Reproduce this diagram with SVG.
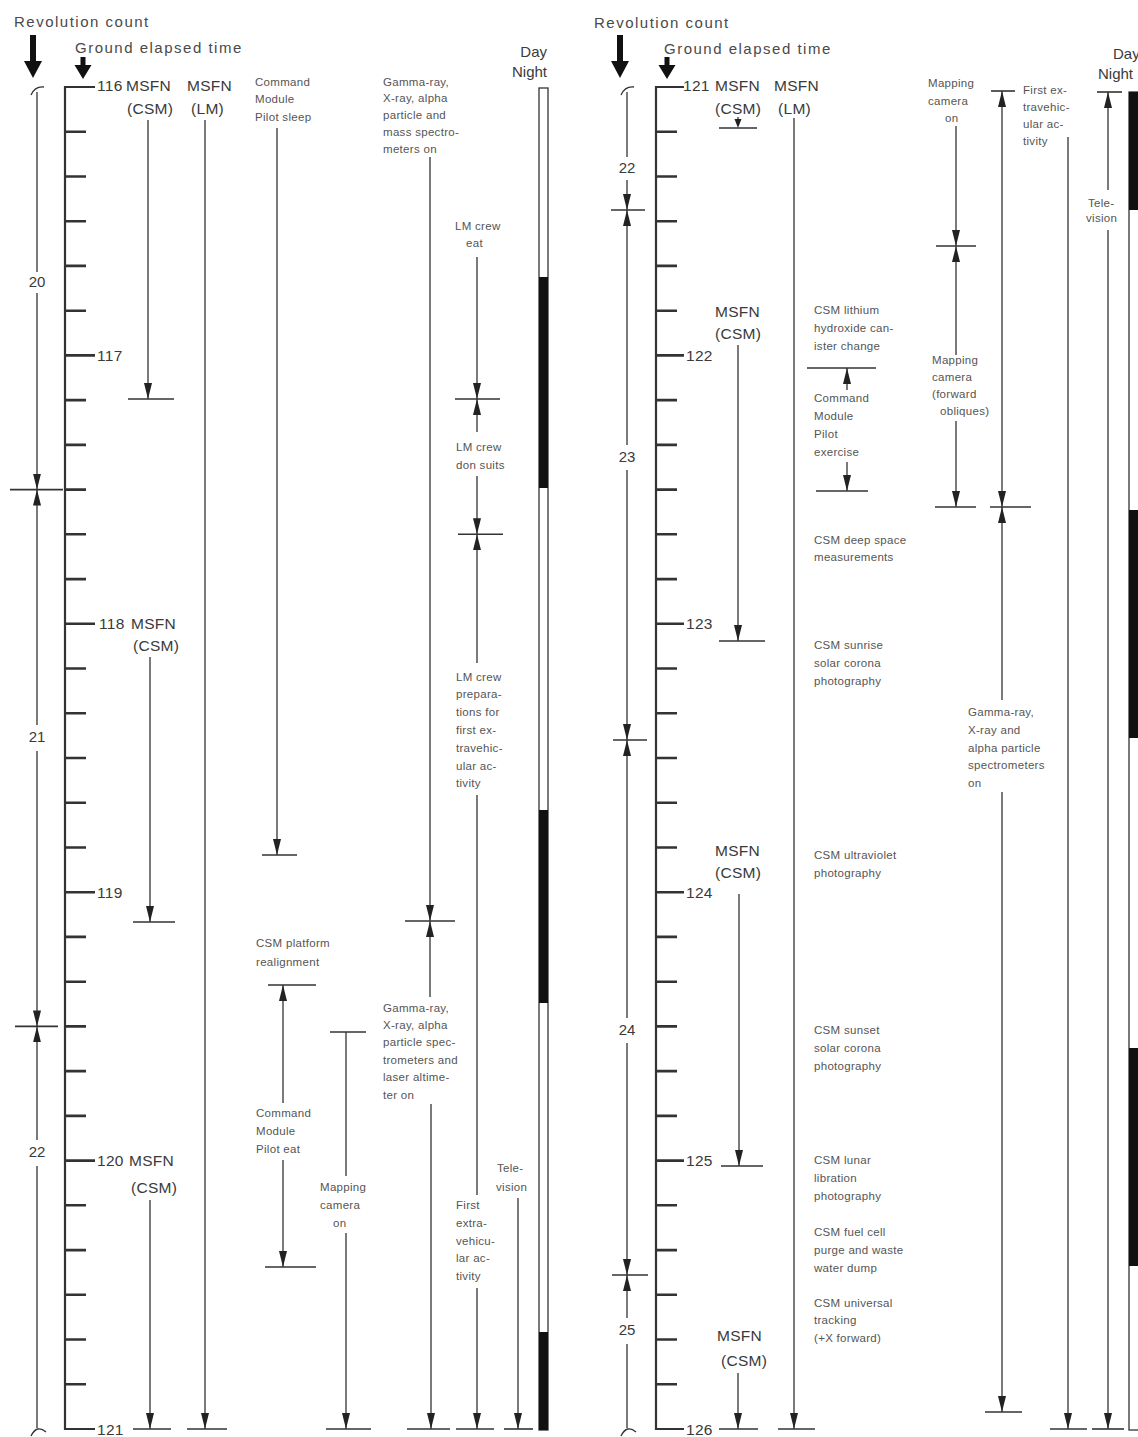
<svg xmlns="http://www.w3.org/2000/svg" width="1138" height="1437" viewBox="0 0 1138 1437">
<style>
text{font-family:"Liberation Sans",Arial,sans-serif;fill:#4a4a4a}
.h{font-size:15px;letter-spacing:1.5px}
.m{font-size:15.5px;letter-spacing:0.3px;fill:#3a3a3a}
.s{font-size:11.5px;letter-spacing:0.3px;fill:#555}
.n{font-size:15px;fill:#3a3a3a}
.ln{stroke:#333;stroke-width:1.3;fill:none}
.ar{stroke:#333;stroke-width:1.3;fill:none;marker-end:url(#ah)}
.bar{stroke:#333;stroke-width:1.6}
.ax{stroke:#333;stroke-width:2.2;fill:none}
.tk{stroke:#333;stroke-width:2.6;fill:none}
.dn{fill:#fff;stroke:#333;stroke-width:1.3}
.blk{fill:#111}
.big{fill:#111}
</style>
<defs>
<marker id="ah" viewBox="0 0 16 8" refX="16" refY="4" markerWidth="16" markerHeight="8" markerUnits="userSpaceOnUse" orient="auto"><path d="M0,0 L16,4 L0,8 z" fill="#222"/></marker>
</defs>
<rect width="1138" height="1437" fill="#fff"/>

<!-- LEFT PANEL -->
<g id="L-header">
<text class="h" x="14" y="27">Revolution count</text>
<path class="big" d="M30,35 h6 v26 h6 l-9,17 l-9,-17 h6 z"/>
<text class="h" x="75" y="53">Ground elapsed time</text>
<path class="big" d="M80.5,57 h5 v8 h6 l-8.5,14 l-8.5,-14 h6 z"/>
</g>

<g id="L-rev">
<path class="ln" d="M31,95 Q35,86 44,87"/>
<line class="ln" x1="37" y1="92" x2="37" y2="272"/>
<text class="n" x="37" y="287" text-anchor="middle">20</text>
<line class="ar" x1="37" y1="293" x2="37" y2="489.6"/>
<line class="bar" x1="10" y1="489.6" x2="63" y2="489.6"/>
<line class="ar" x1="37" y1="725" x2="37" y2="489.6"/>
<text class="n" x="37" y="742" text-anchor="middle">21</text>
<line class="ar" x1="37" y1="751" x2="37" y2="1026.4"/>
<line class="bar" x1="15" y1="1026.4" x2="58" y2="1026.4"/>
<line class="ar" x1="37" y1="1140" x2="37" y2="1026.4"/>
<text class="n" x="37" y="1157" text-anchor="middle">22</text>
<line class="ln" x1="37" y1="1166" x2="37" y2="1428"/>
<path class="ln" d="M31,1436 Q37,1424 46,1432"/>
</g>

<g id="L-axis">
<path class="ax" d="M95,87 H65 V1429 H95"/>
<path class="tk" d="M65,131.7h21M65,176.5h21M65,221.2h21M65,265.9h21M65,310.7h21M65,355.4h30M65,400.1h21M65,444.9h21M65,489.6h21M65,534.3h21M65,579.1h21M65,623.8h30M65,668.5h21M65,713.3h21M65,758h21M65,802.7h21M65,847.5h21M65,892.2h30M65,936.9h21M65,981.7h21M65,1026.4h21M65,1071.1h21M65,1115.9h21M65,1160.6h30M65,1205.3h21M65,1250.1h21M65,1294.8h21M65,1339.5h21M65,1384.3h21"/>
<text class="m" x="97" y="91">116</text>
<text class="m" x="97" y="361">117</text>
<text class="m" x="99" y="629">118</text>
<text class="m" x="97" y="898">119</text>
<text class="m" x="97" y="1166">120</text>
<text class="m" x="97" y="1435">121</text>
</g>

<g id="L-csm1">
<text class="m" x="126" y="91">MSFN</text>
<text class="m" x="127" y="114">(CSM)</text>
<line class="ar" x1="148" y1="120" x2="148" y2="399"/>
<line class="bar" x1="128" y1="399" x2="174" y2="399"/>
</g>
<g id="L-lm">
<text class="m" x="187" y="91">MSFN</text>
<text class="m" x="191" y="114">(LM)</text>
<line class="ar" x1="205" y1="120" x2="205" y2="1429"/>
<line class="bar" x1="187" y1="1429" x2="227" y2="1429"/>
</g>
<g id="L-csm2">
<text class="m" x="131" y="629">MSFN</text>
<text class="m" x="133" y="651">(CSM)</text>
<line class="ar" x1="150" y1="657" x2="150" y2="922"/>
<line class="bar" x1="133" y1="922" x2="175" y2="922"/>
</g>
<g id="L-csm3">
<text class="m" x="129" y="1166">MSFN</text>
<text class="m" x="131" y="1193">(CSM)</text>
<line class="ar" x1="150" y1="1200" x2="150" y2="1429"/>
<line class="bar" x1="133" y1="1429" x2="171" y2="1429"/>
</g>

<g id="L-cmp-sleep">
<text class="s" x="255" y="86">Command</text>
<text class="s" x="255" y="103">Module</text>
<text class="s" x="255" y="121">Pilot sleep</text>
<line class="ar" x1="277" y1="128" x2="277" y2="855"/>
<line class="bar" x1="262" y1="855" x2="297" y2="855"/>
</g>
<g id="L-platform">
<text class="s" x="256" y="947">CSM platform</text>
<text class="s" x="256" y="966">realignment</text>
<line class="bar" x1="268" y1="985" x2="316" y2="985"/>
<line class="ar" x1="283" y1="1103" x2="283" y2="985"/>
</g>
<g id="L-cmp-eat">
<text class="s" x="256" y="1117">Command</text>
<text class="s" x="256" y="1135">Module</text>
<text class="s" x="256" y="1153">Pilot eat</text>
<line class="ar" x1="283" y1="1160" x2="283" y2="1267"/>
<line class="bar" x1="265" y1="1267" x2="316" y2="1267"/>
</g>
<g id="L-mapping">
<line class="bar" x1="330" y1="1032" x2="366" y2="1032"/>
<line class="ln" x1="346" y1="1032" x2="346" y2="1176"/>
<text class="s" x="320" y="1191">Mapping</text>
<text class="s" x="320" y="1209">camera</text>
<text class="s" x="333" y="1227">on</text>
<line class="ar" x1="346" y1="1233" x2="346" y2="1429"/>
<line class="bar" x1="326" y1="1429" x2="371" y2="1429"/>
</g>
<g id="L-gamma1">
<text class="s" x="383" y="86">Gamma-ray,</text>
<text class="s" x="383" y="102">X-ray, alpha</text>
<text class="s" x="383" y="119">particle and</text>
<text class="s" x="383" y="136">mass spectro-</text>
<text class="s" x="383" y="153">meters on</text>
<line class="ar" x1="430" y1="157" x2="430" y2="921"/>
<line class="bar" x1="405" y1="921" x2="455" y2="921"/>
</g>
<g id="L-gamma2">
<line class="ar" x1="430" y1="997" x2="430" y2="921"/>
<text class="s" x="383" y="1012">Gamma-ray,</text>
<text class="s" x="383" y="1029">X-ray, alpha</text>
<text class="s" x="383" y="1046">particle spec-</text>
<text class="s" x="383" y="1064">trometers and</text>
<text class="s" x="383" y="1081">laser altime-</text>
<text class="s" x="383" y="1099">ter on</text>
<line class="ar" x1="431" y1="1104" x2="431" y2="1429"/>
<line class="bar" x1="407" y1="1429" x2="450" y2="1429"/>
</g>
<g id="L-lm-eat">
<text class="s" x="455" y="230">LM crew</text>
<text class="s" x="466" y="247">eat</text>
<line class="ar" x1="477" y1="257" x2="477" y2="399"/>
<line class="bar" x1="455" y1="399" x2="500" y2="399"/>
</g>
<g id="L-lm-suits">
<line class="ar" x1="477" y1="432" x2="477" y2="399"/>
<text class="s" x="456" y="451">LM crew</text>
<text class="s" x="456" y="469">don suits</text>
<line class="ar" x1="477" y1="476" x2="477" y2="534.3"/>
<line class="bar" x1="458" y1="534.3" x2="503" y2="534.3"/>
</g>
<g id="L-lm-prep">
<line class="ar" x1="477" y1="663" x2="477" y2="534.3"/>
<text class="s" x="456" y="681">LM crew</text>
<text class="s" x="456" y="698">prepara-</text>
<text class="s" x="456" y="716">tions for</text>
<text class="s" x="456" y="734">first ex-</text>
<text class="s" x="456" y="752">travehic-</text>
<text class="s" x="456" y="770">ular ac-</text>
<text class="s" x="456" y="787">tivity</text>
<line class="ln" x1="477" y1="795" x2="477" y2="1195"/>
</g>
<g id="L-eva">
<text class="s" x="456" y="1209">First</text>
<text class="s" x="456" y="1227">extra-</text>
<text class="s" x="456" y="1245">vehicu-</text>
<text class="s" x="456" y="1262">lar ac-</text>
<text class="s" x="456" y="1280">tivity</text>
<line class="ar" x1="477" y1="1288" x2="477" y2="1429"/>
<line class="bar" x1="456" y1="1429" x2="494" y2="1429"/>
</g>
<g id="L-tv">
<text class="s" x="497" y="1172">Tele-</text>
<text class="s" x="496" y="1191">vision</text>
<line class="ar" x1="518" y1="1198" x2="518" y2="1429"/>
<line class="bar" x1="504" y1="1429" x2="533" y2="1429"/>
</g>
<g id="L-daynight">
<text class="n" x="547" y="57" text-anchor="end">Day</text>
<text class="n" x="547" y="77" text-anchor="end">Night</text>
<rect class="dn" x="539" y="88" width="9" height="1342"/>
<rect class="blk" x="539" y="277" width="9" height="211"/>
<rect class="blk" x="539" y="810" width="9" height="193"/>
<rect class="blk" x="539" y="1332" width="9" height="98"/>
</g>

<!-- RIGHT PANEL -->
<g id="R-header">
<text class="h" x="594" y="28">Revolution count</text>
<path class="big" d="M617,35 h6 v26 h6 l-9,17 l-9,-17 h6 z"/>
<text class="h" x="664" y="54">Ground elapsed time</text>
<path class="big" d="M664.5,57 h5 v8 h6 l-8.5,14 l-8.5,-14 h6 z"/>
</g>

<g id="R-rev">
<path class="ln" d="M621,95 Q625,86 634,87"/>
<line class="ln" x1="627" y1="92" x2="627" y2="157"/>
<text class="n" x="627" y="173" text-anchor="middle">22</text>
<line class="ar" x1="627" y1="180" x2="627" y2="210"/>
<line class="bar" x1="611" y1="210" x2="645" y2="210"/>
<line class="ar" x1="627" y1="445" x2="627" y2="210"/>
<text class="n" x="627" y="462" text-anchor="middle">23</text>
<line class="ar" x1="627" y1="470" x2="627" y2="740"/>
<line class="bar" x1="613" y1="740" x2="647" y2="740"/>
<line class="ar" x1="627" y1="1018" x2="627" y2="740"/>
<text class="n" x="627" y="1035" text-anchor="middle">24</text>
<line class="ar" x1="627" y1="1043" x2="627" y2="1275"/>
<line class="bar" x1="612" y1="1275" x2="648" y2="1275"/>
<line class="ar" x1="627" y1="1318" x2="627" y2="1275"/>
<text class="n" x="627" y="1335" text-anchor="middle">25</text>
<line class="ln" x1="627" y1="1344" x2="627" y2="1428"/>
<path class="ln" d="M621,1436 Q627,1424 636,1432"/>
</g>

<g id="R-axis">
<path class="ax" d="M684,87 H656 V1429 H684"/>
<path class="tk" d="M656,131.7h21M656,176.5h21M656,221.2h21M656,265.9h21M656,310.7h21M656,355.4h28M656,400.1h21M656,444.9h21M656,489.6h21M656,534.3h21M656,579.1h21M656,623.8h28M656,668.5h21M656,713.3h21M656,758h21M656,802.7h21M656,847.5h21M656,892.2h28M656,936.9h21M656,981.7h21M656,1026.4h21M656,1071.1h21M656,1115.9h21M656,1160.6h28M656,1205.3h21M656,1250.1h21M656,1294.8h21M656,1339.5h21M656,1384.3h21"/>
<text class="m" x="683" y="91">121</text>
<text class="m" x="686" y="361">122</text>
<text class="m" x="686" y="629">123</text>
<text class="m" x="686" y="898">124</text>
<text class="m" x="686" y="1166">125</text>
<text class="m" x="686" y="1435">126</text>
</g>

<g id="R-csm1">
<text class="m" x="715" y="91">MSFN</text>
<text class="m" x="715" y="114">(CSM)</text>
<line class="ln" x1="738" y1="117" x2="738" y2="121"/>
<path d="M734.5,119 L741.5,119 L738,128 z" fill="#222"/>
<line class="bar" x1="719" y1="128" x2="757" y2="128"/>
</g>
<g id="R-lm">
<text class="m" x="774" y="91">MSFN</text>
<text class="m" x="778" y="114">(LM)</text>
<line class="ar" x1="794" y1="118" x2="794" y2="1429"/>
<line class="bar" x1="778" y1="1429" x2="815" y2="1429"/>
</g>
<g id="R-csm2">
<text class="m" x="715" y="317">MSFN</text>
<text class="m" x="715" y="339">(CSM)</text>
<line class="ar" x1="738" y1="345" x2="738" y2="641"/>
<line class="bar" x1="719" y1="641" x2="765" y2="641"/>
</g>
<g id="R-csm3">
<text class="m" x="715" y="856">MSFN</text>
<text class="m" x="715" y="878">(CSM)</text>
<line class="ar" x1="739" y1="894" x2="739" y2="1166"/>
<line class="bar" x1="721" y1="1166" x2="763" y2="1166"/>
</g>
<g id="R-csm4">
<text class="m" x="717" y="1341">MSFN</text>
<text class="m" x="721" y="1366">(CSM)</text>
<line class="ar" x1="738" y1="1373" x2="738" y2="1429"/>
<line class="bar" x1="719" y1="1429" x2="758" y2="1429"/>
</g>

<g id="R-lioh">
<text class="s" x="814" y="314">CSM lithium</text>
<text class="s" x="814" y="332">hydroxide can-</text>
<text class="s" x="814" y="350">ister change</text>
<line class="bar" x1="807" y1="368" x2="876" y2="368"/>
</g>
<g id="R-cmp-exercise">
<line class="ar" x1="847" y1="390" x2="847" y2="368"/>
<text class="s" x="814" y="402">Command</text>
<text class="s" x="814" y="420">Module</text>
<text class="s" x="814" y="438">Pilot</text>
<text class="s" x="814" y="456">exercise</text>
<line class="ar" x1="847" y1="462" x2="847" y2="491"/>
<line class="bar" x1="816" y1="491" x2="868" y2="491"/>
</g>
<g id="R-deepspace">
<text class="s" x="814" y="544">CSM deep space</text>
<text class="s" x="814" y="561">measurements</text>
</g>
<g id="R-sunrise">
<text class="s" x="814" y="649">CSM sunrise</text>
<text class="s" x="814" y="667">solar corona</text>
<text class="s" x="814" y="685">photography</text>
</g>
<g id="R-uv">
<text class="s" x="814" y="859">CSM ultraviolet</text>
<text class="s" x="814" y="877">photography</text>
</g>
<g id="R-sunset">
<text class="s" x="814" y="1034">CSM sunset</text>
<text class="s" x="814" y="1052">solar corona</text>
<text class="s" x="814" y="1070">photography</text>
</g>
<g id="R-libration">
<text class="s" x="814" y="1164">CSM lunar</text>
<text class="s" x="814" y="1182">libration</text>
<text class="s" x="814" y="1200">photography</text>
</g>
<g id="R-fuelcell">
<text class="s" x="814" y="1236">CSM fuel cell</text>
<text class="s" x="814" y="1254">purge and waste</text>
<text class="s" x="814" y="1272">water dump</text>
</g>
<g id="R-tracking">
<text class="s" x="814" y="1307">CSM universal</text>
<text class="s" x="814" y="1324">tracking</text>
<text class="s" x="814" y="1342">(+X forward)</text>
</g>

<g id="R-mapping1">
<text class="s" x="928" y="87">Mapping</text>
<text class="s" x="928" y="105">camera</text>
<text class="s" x="945" y="122">on</text>
<line class="ar" x1="956" y1="126" x2="956" y2="246"/>
<line class="bar" x1="936" y1="246" x2="976" y2="246"/>
</g>
<g id="R-mapping2">
<line class="ar" x1="956" y1="355" x2="956" y2="246"/>
<text class="s" x="932" y="364">Mapping</text>
<text class="s" x="932" y="381">camera</text>
<text class="s" x="932" y="398">(forward</text>
<text class="s" x="940" y="415">obliques)</text>
<line class="ar" x1="956" y1="421" x2="956" y2="507"/>
<line class="bar" x1="935" y1="507" x2="976" y2="507"/>
</g>
<g id="R-col-1002">
<line class="bar" x1="991" y1="91" x2="1015" y2="91"/>
<line class="ar" x1="1002" y1="300" x2="1002" y2="91"/>
<line class="ar" x1="1002" y1="300" x2="1002" y2="507"/>
<line class="bar" x1="990" y1="507" x2="1031" y2="507"/>
</g>
<g id="R-gamma">
<line class="ar" x1="1002" y1="700" x2="1002" y2="507"/>
<text class="s" x="968" y="716">Gamma-ray,</text>
<text class="s" x="968" y="734">X-ray and</text>
<text class="s" x="968" y="752">alpha particle</text>
<text class="s" x="968" y="769">spectrometers</text>
<text class="s" x="968" y="787">on</text>
<line class="ar" x1="1002" y1="792" x2="1002" y2="1412"/>
<line class="bar" x1="985" y1="1412" x2="1022" y2="1412"/>
</g>
<g id="R-eva">
<text class="s" x="1023" y="94">First ex-</text>
<text class="s" x="1023" y="111">travehic-</text>
<text class="s" x="1023" y="128">ular ac-</text>
<text class="s" x="1023" y="145">tivity</text>
<line class="ar" x1="1068" y1="137" x2="1068" y2="1429"/>
<line class="bar" x1="1050" y1="1429" x2="1087" y2="1429"/>
</g>
<g id="R-tv">
<line class="bar" x1="1097" y1="92" x2="1122" y2="92"/>
<line class="ar" x1="1108" y1="190" x2="1108" y2="92"/>
<text class="s" x="1088" y="207">Tele-</text>
<text class="s" x="1086" y="222">vision</text>
<line class="ar" x1="1108" y1="230" x2="1108" y2="1429"/>
<line class="bar" x1="1092" y1="1429" x2="1124" y2="1429"/>
</g>
<g id="R-daynight">
<text class="n" x="1113" y="59">Day</text>
<text class="n" x="1098" y="79">Night</text>
<rect class="dn" x="1129" y="92" width="14" height="1338"/>
<rect class="blk" x="1129" y="92" width="14" height="118"/>
<rect class="blk" x="1129" y="510" width="14" height="228"/>
<rect class="blk" x="1129" y="1048" width="14" height="218"/>
</g>
</svg>
